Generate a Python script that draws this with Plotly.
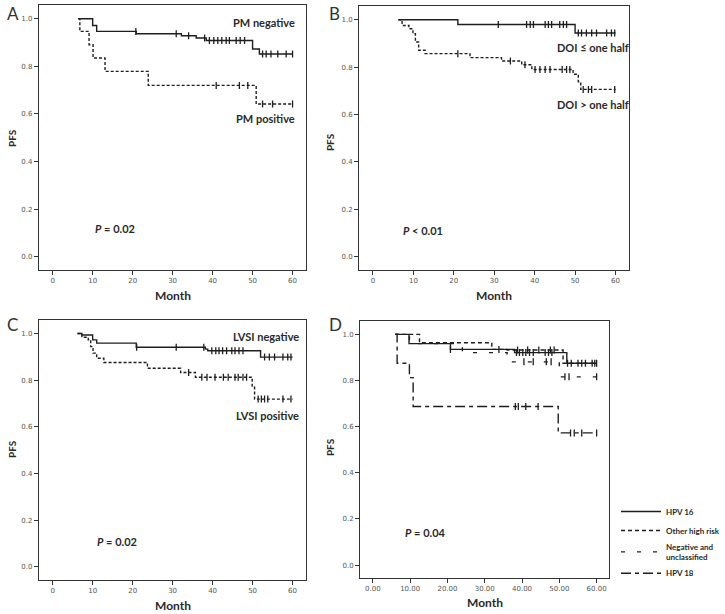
import plotly.graph_objects as go

# ---------------- data ----------------
# Panel A (PM)
pm_neg_start, pm_neg_end = 6.4, 60
pm_neg_drop_t = [10.0, 11.0, 20.9, 32.2, 35.9, 38.4, 50.0, 51.7]
pm_neg_drop_s = [0.972, 0.947, 0.937, 0.929, 0.919, 0.909, 0.873, 0.852]
pm_neg_cens = [20.8, 30.9, 34.0, 38.0, 39.2, 40.3, 41.3, 42.3, 43.4, 44.2, 45.9, 46.9, 48.0,
               52.5, 53.4, 54.6, 56.3, 58.4, 60.0]

pm_pos_start, pm_pos_end = 6.4, 60
pm_pos_drop_t = [6.8, 9.1, 10.1, 13.1, 23.9, 50.9]
pm_pos_drop_s = [0.947, 0.891, 0.835, 0.779, 0.72, 0.642]
pm_pos_cens = [40.9, 46.7, 48.8, 52.5, 55.0, 60.0]

# Panel B (DOI)
doi_lo_start, doi_lo_end = 6.3, 60
doi_lo_drop_t = [21.0, 50.0]
doi_lo_drop_s = [0.98, 0.944]
doi_lo_cens = [31.0, 38.0, 38.9, 39.7, 42.6, 43.4, 44.2, 46.2, 47.1, 47.9,
               50.8, 51.6, 52.8, 54.1, 55.3, 57.8, 59.0, 59.8]

doi_hi_start, doi_hi_end = 6.3, 60
doi_hi_drop_t = [7.2, 8.9, 9.9, 10.5, 11.3, 12.9, 24.0, 31.8, 36.8, 39.3, 49.5, 50.8, 51.4]
doi_hi_drop_s = [0.976, 0.962, 0.941, 0.906, 0.871, 0.857, 0.84, 0.826, 0.81, 0.79, 0.77, 0.738, 0.706]
doi_hi_cens = [21.0, 34.0, 37.6, 40.1, 41.3, 42.6, 43.8, 46.8, 47.9, 48.7, 52.0, 53.3, 54.1, 59.8]

# Panel C (LVSI)
lvsi_neg_start, lvsi_neg_end = 6.2, 60
lvsi_neg_drop_t = [7.3, 10.0, 11.0, 20.9, 38.2, 38.8, 52.0]
lvsi_neg_drop_s = [0.994, 0.973, 0.959, 0.941, 0.933, 0.926, 0.899]
lvsi_neg_cens = [21.0, 30.9, 37.8, 39.8, 40.8, 41.6, 42.5, 43.5, 44.8, 45.6, 46.6, 47.6,
                 53.0, 54.2, 55.5, 57.6, 58.8, 59.6]

lvsi_pos_start, lvsi_pos_end = 6.2, 60
lvsi_pos_drop_t = [7.3, 8.9, 9.5, 10.1, 11.0, 12.8, 23.7, 32.0, 35.7, 49.9, 50.5]
lvsi_pos_drop_s = [0.984, 0.973, 0.944, 0.916, 0.894, 0.876, 0.851, 0.833, 0.813, 0.77, 0.719]
lvsi_pos_cens = [34.0, 37.3, 38.6, 40.6, 42.7, 43.9, 45.6, 46.4, 47.6, 48.5,
                 51.4, 52.2, 53.0, 53.8, 57.6, 59.6]

# Panel D (HPV)
hpv16_start, hpv16_end = 6.0, 60
hpv16_drop_t = [9.7, 20.8, 38.0, 52.0]
hpv16_drop_s = [0.96, 0.935, 0.921, 0.875]
hpv16_cens = [20.8, 38.5, 39.3, 40.2, 41.0, 42.0, 43.0, 46.2, 47.1, 48.0,
              53.2, 55.0, 57.0, 58.8, 60.0]

other_start, other_end = 6.0, 60
other_drop_t = [12.5, 31.9, 36.0, 51.0]
other_drop_s = [0.964, 0.935, 0.932, 0.875]
other_cens = [33.8, 38.8, 41.5, 44.5, 47.6, 48.6, 52.2, 56.0, 59.5]

neg_start, neg_end = 6.0, 60
neg_drop_t = [9.8, 24.0, 36.0, 50.0]
neg_drop_s = [0.96, 0.921, 0.881, 0.816]
neg_cens = [40.5, 43.0, 46.5, 47.8, 51.5, 52.6, 60.0]

hpv18_start, hpv18_end = 6.0, 60
hpv18_drop_t = [6.5, 9.8, 10.8, 49.7]
hpv18_drop_s = [0.875, 0.8125, 0.6875, 0.573]
hpv18_cens = [38.2, 39.0, 41.0, 44.3, 53.0, 54.0, 56.0, 60.0]

y_ticks = [0.0, 0.2, 0.4, 0.6, 0.8, 1.0]
x_ticks = [0, 10, 20, 30, 40, 50, 60]

# ---------------- helpers ----------------
def step_xy(start, end, dt, ds):
    xs = [start] + list(dt) + [end]
    ys = [1.0] + list(ds) + [ds[-1]]
    return xs, ys

def surv_at(t, dt, ds):
    s = 1.0
    for ti, si in zip(dt, ds):
        if t >= ti:
            s = si
    return s

INK = "#1e1e1e"
fig = go.Figure()

def add_curve(ax, start, end, dt, ds, cens, dash, name=None, legend=False, width=1.4):
    xs, ys = step_xy(start, end, dt, ds)
    xa = "x" if ax == 1 else f"x{ax}"
    ya = "y" if ax == 1 else f"y{ax}"
    fig.add_trace(go.Scatter(x=xs, y=ys, mode="lines", line=dict(shape="hv", color=INK, width=width, dash=dash),
                             xaxis=xa, yaxis=ya, name=name, showlegend=legend, hoverinfo="skip"))
    cy = [surv_at(t, dt, ds) for t in cens]
    fig.add_trace(go.Scatter(x=cens, y=cy, mode="markers",
                             marker=dict(symbol="line-ns", size=5, line=dict(color=INK, width=1.3)),
                             xaxis=xa, yaxis=ya, showlegend=False, hoverinfo="skip"))

DOT = "3px,2px"
add_curve(1, pm_neg_start, pm_neg_end, pm_neg_drop_t, pm_neg_drop_s, pm_neg_cens, "solid")
add_curve(1, pm_pos_start, pm_pos_end, pm_pos_drop_t, pm_pos_drop_s, pm_pos_cens, DOT)
add_curve(2, doi_lo_start, doi_lo_end, doi_lo_drop_t, doi_lo_drop_s, doi_lo_cens, "solid")
add_curve(2, doi_hi_start, doi_hi_end, doi_hi_drop_t, doi_hi_drop_s, doi_hi_cens, DOT)
add_curve(3, lvsi_neg_start, lvsi_neg_end, lvsi_neg_drop_t, lvsi_neg_drop_s, lvsi_neg_cens, "solid")
add_curve(3, lvsi_pos_start, lvsi_pos_end, lvsi_pos_drop_t, lvsi_pos_drop_s, lvsi_pos_cens, DOT)
add_curve(4, hpv16_start, hpv16_end, hpv16_drop_t, hpv16_drop_s, hpv16_cens, "solid", "HPV 16", True)
add_curve(4, other_start, other_end, other_drop_t, other_drop_s, other_cens, "4px,3px", "Other high risk", True)
add_curve(4, neg_start, neg_end, neg_drop_t, neg_drop_s, neg_cens, "4px,12px", "Negative and<br>unclassified", True)
add_curve(4, hpv18_start, hpv18_end, hpv18_drop_t, hpv18_drop_s, hpv18_cens, "10px,4px,4px,4px", "HPV 18", True)

W, H = 725, 614
def px_x(a, b):
    return [a / W, b / W]
def px_y(top, bot):
    return [(H - bot) / H, (H - top) / H]

tickfont = dict(family="DejaVu Sans", size=7, color="#555")
common_ax = dict(showline=True, mirror=True, linecolor="#333", linewidth=1, ticks="outside",
                 ticklen=4, tickcolor="#333", tickwidth=1, showgrid=False, zeroline=False,
                 tickfont=tickfont, fixedrange=True)

doms = {
    1: (px_x(39, 307), px_y(5, 270)),
    2: (px_x(360, 631), px_y(6, 270)),
    3: (px_x(39, 307), px_y(320, 580)),
    4: (px_x(361, 611), px_y(321, 578)),
}
layout = {}
for k, (xd, yd) in doms.items():
    xn = "xaxis" if k == 1 else f"xaxis{k}"
    yn = "yaxis" if k == 1 else f"yaxis{k}"
    xr = [-3.45, 63.4]
    layout[xn] = dict(common_ax, domain=xd, range=xr, tickvals=x_ticks,
                      tickformat=".2f" if k == 4 else "d",
                      anchor="y" if k == 1 else f"y{k}")
    layout[yn] = dict(common_ax, domain=yd, range=[-0.056, 1.058], tickvals=y_ticks, tickformat=".1f",
                      anchor="x" if k == 1 else f"x{k}")
fig.update_layout(**layout)

lab = dict(family="Lato", size=11, color="#2a2a2a", weight="bold")
ann = []
def a(text, x, y, xref, yref, xanchor="left", font=lab, textangle=0, yanchor="middle"):
    ann.append(dict(text=text, x=x, y=y, xref=xref, yref=yref, xanchor=xanchor, yanchor=yanchor,
                    showarrow=False, font=font, textangle=textangle))

# curve labels
a("PM negative", 61.0, 0.983, "x", "y", "right")
a("PM positive", 61.0, 0.58, "x", "y", "right")
a("<i>P</i> = 0.02", 10.0, 0.118, "x", "y")
a("DOI ≤ one half", 45.1, 0.882, "x2", "y2")
a("DOI > one half", 45.1, 0.643, "x2", "y2")
a("<i>P</i> < 0.01", 7.0, 0.109, "x2", "y2")
a("LVSI negative", 62.0, 0.986, "x3", "y3", "right")
a("LVSI positive", 62.0, 0.647, "x3", "y3", "right")
a("<i>P</i> = 0.02", 10.6, 0.11, "x3", "y3")
a("<i>P</i> = 0.04", 8.2, 0.142, "x4", "y4")

# axis titles
mfont = dict(family="Lato", size=12, color="#2a2a2a", weight="bold")
pfont = dict(family="Lato", size=10, color="#2a2a2a", weight="bold")
a("Month", 30, (H - 295) / H, "x", "paper", "center", mfont)
a("Month", 30, (H - 295) / H, "x2", "paper", "center", mfont)
a("Month", 30, (H - 605) / H, "x3", "paper", "center", mfont)
a("Month", 30, (H - 602) / H, "x4", "paper", "center", mfont)
a("PFS", 12 / W, (H - 138) / H, "paper", "paper", "center", pfont, -90)
a("PFS", 331 / W, (H - 142) / H, "paper", "paper", "center", pfont, -90)
a("PFS", 12 / W, (H - 449) / H, "paper", "paper", "center", pfont, -90)
a("PFS", 331 / W, (H - 447) / H, "paper", "paper", "center", pfont, -90)

# panel letters
lfont = dict(family="Lato", size=17, color="#333")
a("A", 5 / W, (H - 13) / H, "paper", "paper", "left", lfont)
a("B", 328 / W, (H - 13) / H, "paper", "paper", "left", lfont)
a("C", 5 / W, (H - 324) / H, "paper", "paper", "left", lfont)
a("D", 328 / W, (H - 324) / H, "paper", "paper", "left", lfont)

fig.update_layout(
    annotations=ann,
    width=W, height=H,
    margin=dict(l=0, r=0, t=0, b=0),
    paper_bgcolor="white", plot_bgcolor="white",
    showlegend=True,
    legend=dict(x=618 / W, y=(H - 497) / H, xanchor="left", yanchor="top",
                font=dict(family="Lato", size=8, color="#2a2a2a", weight="bold"),
                bgcolor="rgba(0,0,0,0)", tracegroupgap=2, itemwidth=40),
)

fig.write_html("out.html")
